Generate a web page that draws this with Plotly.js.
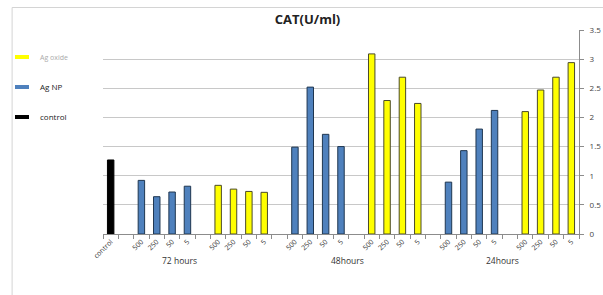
<!DOCTYPE html>
<html>
<head>
<meta charset="utf-8">
<script src="https://cdn.plot.ly/plotly-3.0.1.min.js"></script>
<style>html,body{margin:0;padding:0;background:#fff;}#chart{width:603px;height:295px;}</style>
</head>
<body>
<div id="chart"></div>
<script>
// Category slots along the x axis ("" = empty spacer slot)
var categories = ["control", "",
  "500", "250", "50", "5", "",
  "500", "250", "50", "5", "",
  "500", "250", "50", "5", "",
  "500", "250", "50", "5", "",
  "500", "250", "50", "5", "",
  "500", "250", "50", "5"];
var groupLabels = ["72 hours", "48hours", "24hours"];
var groupCenters = [4.5, 15.4, 25.5]; // slot index where each group label sits

// slot indices of each series
var controlSlots = [0];
var agNPSlots = [2, 3, 4, 5, 12, 13, 14, 15, 22, 23, 24, 25];
var agOxideSlots = [7, 8, 9, 10, 17, 18, 19, 20, 27, 28, 29, 30];

// values (CAT U/ml)
var controlValues = [1.27];
var agNP72 = [0.92, 0.64, 0.72, 0.82];
var agNP48 = [1.49, 2.52, 1.71, 1.50];
var agNP24 = [0.89, 1.43, 1.80, 2.12];
var agOx72 = [0.835, 0.77, 0.73, 0.715];
var agOx48 = [3.09, 2.29, 2.69, 2.24];
var agOx24 = [2.10, 2.47, 2.69, 2.94];

var yTicks = [0, 0.5, 1, 1.5, 2, 2.5, 3, 3.5];

var agNPValues = agNP72.concat(agNP48, agNP24);
var agOxValues = agOx72.concat(agOx48, agOx24);

var slotIdx = categories.map(function(_, i){ return i; });
var boundaries = categories.map(function(_, i){ return i - 0.5; }).concat([categories.length - 0.5]);

var barW = 0.42;
var traces = [
  {type:'bar', name:'Ag oxide', x: agOxideSlots, y: agOxValues, width: barW, showlegend:true,
   marker:{color:'#FFFF00', line:{color:'#4a4a2a', width:1}}, legend:'legend'},
  {type:'bar', name:'Ag NP', x: agNPSlots, y: agNPValues, width: barW, showlegend:true,
   marker:{color:'#4F81BD', line:{color:'#1F3650', width:1}}, legend:'legend2'},
  {type:'bar', name:'control', x: controlSlots, y: controlValues, width: barW, showlegend:true,
   marker:{color:'#000000', line:{color:'#000000', width:1}}, legend:'legend3'}
];

var annotations = groupLabels.map(function(t, i){
  return {text: t, x: groupCenters[i], xref:'x', y: -0.13, yref:'paper',
          showarrow:false, yanchor:'middle', xanchor:'center',
          font:{family:'Open Sans, sans-serif', size:8.5, color:'#333'}};
});

function legendCfg(yPix){
  return {xref:'container', yref:'container', x: 0, y: 1 - yPix/295,
          xanchor:'left', yanchor:'middle', bgcolor:'rgba(0,0,0,0)', visible:true,
          font:{family:'Open Sans, sans-serif', size:8, color:'#222'}};
}
var lg1 = legendCfg(57); lg1.font = {family:'Open Sans, sans-serif', size:7, color:'#aaa'};

var layout = {
  width: 603, height: 295,
  showlegend: true,
  margin: {l: 102.5, r: 24, t: 30, b: 61},
  paper_bgcolor:'#fff', plot_bgcolor:'#fff',
  barmode:'overlay',
  title: {text:'<b>CAT(U/ml)</b>', x: 0.51, xanchor:'center', y: 0.935, yanchor:'middle',
          font:{family:'Open Sans, sans-serif', size:13, color:'#222'}},
  xaxis: {range:[-0.5, categories.length - 0.5], tickmode:'array', tickvals: slotIdx, ticktext: categories,
          tickangle:-45, ticks:'', showgrid:false, zeroline:false,
          showline:true, linecolor:'#8c8c8c', linewidth:1,
          tickfont:{family:'Open Sans, sans-serif', size:7, color:'#333'},
          minor:{tickmode:'array', tickvals: boundaries, ticks:'outside', ticklen:4, tickcolor:'#8c8c8c', showgrid:false}},
  yaxis: {range:[0, 3.5], side:'right', tickmode:'array', tickvals: yTicks,
          ticktext: yTicks.map(String), showline:true, linecolor:'#8c8c8c', linewidth:1,
          ticks:'outside', ticklen:4, tickcolor:'#8c8c8c', ticklabelstandoff:4,
          gridcolor:'#c8c8c8', gridwidth:1, zeroline:false,
          tickfont:{family:'Open Sans, sans-serif', size:8, color:'#444'}},
  annotations: annotations,
  legend: lg1, legend2: legendCfg(87), legend3: legendCfg(117),
  shapes: [
    {type:'line', xref:'paper', yref:'paper', x0:(11.5-102.5)/476.5, x1:(603-102.5)/476.5,
     y0:(295-61-7.5)/204, y1:(295-61-7.5)/204, line:{color:'#d4d4d4', width:1}},
    {type:'line', xref:'paper', yref:'paper', x0:(11.5-102.5)/476.5, x1:(11.5-102.5)/476.5,
     y0:(295-61-7.5)/204, y1:(295-61-300)/204, line:{color:'#d4d4d4', width:1}}
  ]
};

var gd = document.getElementById('chart');
function restyleLegend(){
  // flat bar swatches like the original legend
  gd.querySelectorAll('.legendpoints path').forEach(function(p){
    p.setAttribute('d', 'M9,2H-5V-2H9Z');
    p.style.strokeWidth = '0px';
  });
}
Plotly.newPlot(gd, traces, layout, {displayModeBar:false, staticPlot:true}).then(function(){
  restyleLegend();
  gd.on('plotly_afterplot', restyleLegend);
  setTimeout(restyleLegend, 50);
});
</script>
</body>
</html>
